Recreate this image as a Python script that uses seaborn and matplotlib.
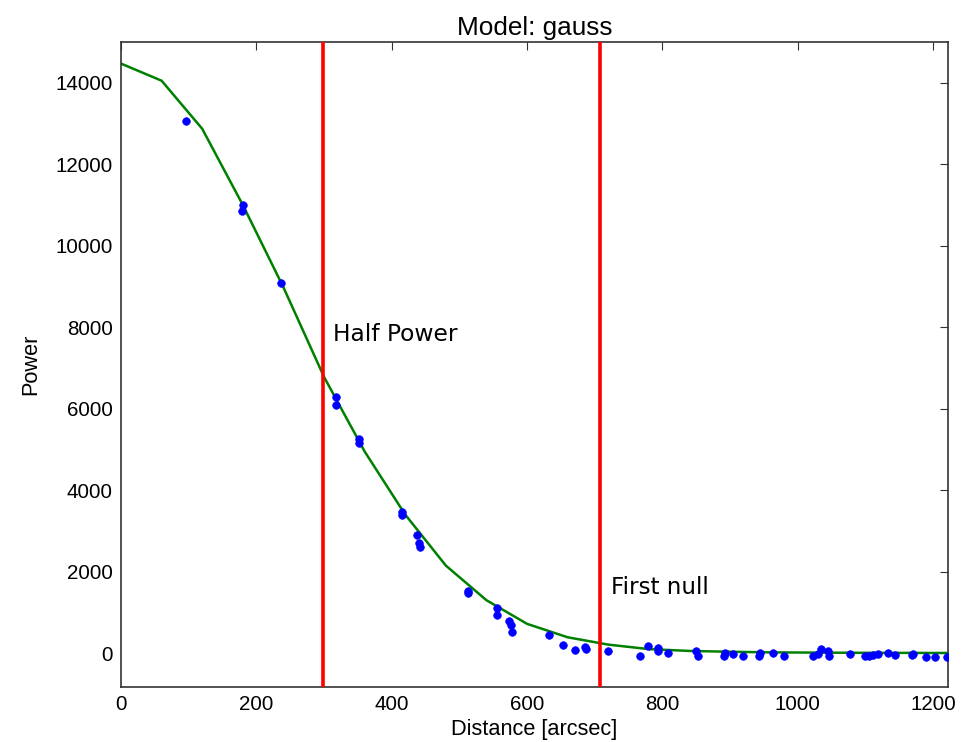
import matplotlib
matplotlib.use("Agg")
import matplotlib.pyplot as plt
import seaborn as sns
import pandas as pd

# measured data points
dist = [96, 180, 179, 237, 317, 317, 352, 352, 415, 415, 438, 441, 442,
        512, 513, 555, 555, 574, 576, 578, 632, 653, 671, 686, 687, 720,
        767, 778, 794, 794, 808, 850, 852, 891, 893, 905, 919, 942, 944,
        964, 979, 1023, 1030, 1034, 1044, 1046, 1077, 1100, 1105, 1111,
        1118, 1133, 1144, 1169, 1171, 1190, 1203, 1220]
power = [13060, 11000, 10860, 9080, 6290, 6090, 5250, 5150, 3470, 3380,
         2890, 2710, 2600, 1525, 1470, 1110, 940, 795, 690, 525, 435, 200,
         75, 160, 110, 55, -60, 165, 115, 60, 15, 65, -65, -60, 15, -10,
         -65, -65, 10, 5, -65, -65, -10, 100, 60, -80, -10, -60, -60, -50,
         -10, 5, -35, -50, -10, -90, -90, -90]

# model curve
model_x = [0, 60, 120, 180, 240, 300, 360, 420, 480, 540, 600, 660, 720,
           780, 840, 900, 960, 1020, 1080, 1140, 1200, 1220]
model_y = [14470, 14050, 12870, 11000, 8980, 6780, 4950, 3400, 2150, 1300,
           720, 390, 210, 100, 55, 35, 20, 15, 10, 8, 5, 5]

half_power = 298
first_null = 708

sns.set_style("white")
plt.rcParams['font.family'] = ['Liberation Sans', 'DejaVu Sans']
plt.rcParams['text.color'] = 'black'
plt.rcParams['axes.labelcolor'] = 'black'
plt.rcParams['xtick.color'] = 'black'
plt.rcParams['ytick.color'] = 'black'

pts = pd.DataFrame({"x": dist, "y": power})
mdl = pd.DataFrame({"x": model_x, "y": model_y})

fig = plt.figure(figsize=(9.7, 7.42), dpi=100)
ax = fig.add_axes([121/970, 1-687/742, (948-121)/970, (687-42)/742])

sns.lineplot(data=mdl, x="x", y="y", ax=ax, color="green", linewidth=1.8,
             estimator=None, sort=True, zorder=2)
sns.scatterplot(data=pts, x="x", y="y", ax=ax, color="blue", s=30,
                edgecolor="blue", linewidth=0.5, zorder=3)
ax.axvline(half_power, color="red", linewidth=2.6, zorder=4)
ax.axvline(first_null, color="red", linewidth=2.6, zorder=4)

ax.text(313, 7650, "Half Power", family="DejaVu Sans", fontsize=16.8,
        va="baseline", ha="left", color="black")
ax.text(724, 1450, "First null", family="DejaVu Sans", fontsize=16.6,
        va="baseline", ha="left", color="black")

ax.set_xlim(0, 1222)
ax.set_ylim(-830, 15000)
ax.set_xticks([0, 200, 400, 600, 800, 1000, 1200])
ax.set_yticks([0, 2000, 4000, 6000, 8000, 10000, 12000, 14000])
ax.tick_params(axis="both", which="both", direction="in", top=True,
               right=True, length=6, width=0.8, labelsize=14.8, pad=6,
               color="#333333", labelcolor="black")
for s in ax.spines.values():
    s.set_color("#333333")
    s.set_linewidth(1.2)

ax.set_title("Model: gauss", fontsize=18.8, pad=5, color="black")
ax.set_xlabel("Distance [arcsec]", fontsize=15.7, labelpad=3)
ax.set_ylabel("Power", fontsize=15.7, labelpad=10)

fig.savefig("out.png", dpi=100)
